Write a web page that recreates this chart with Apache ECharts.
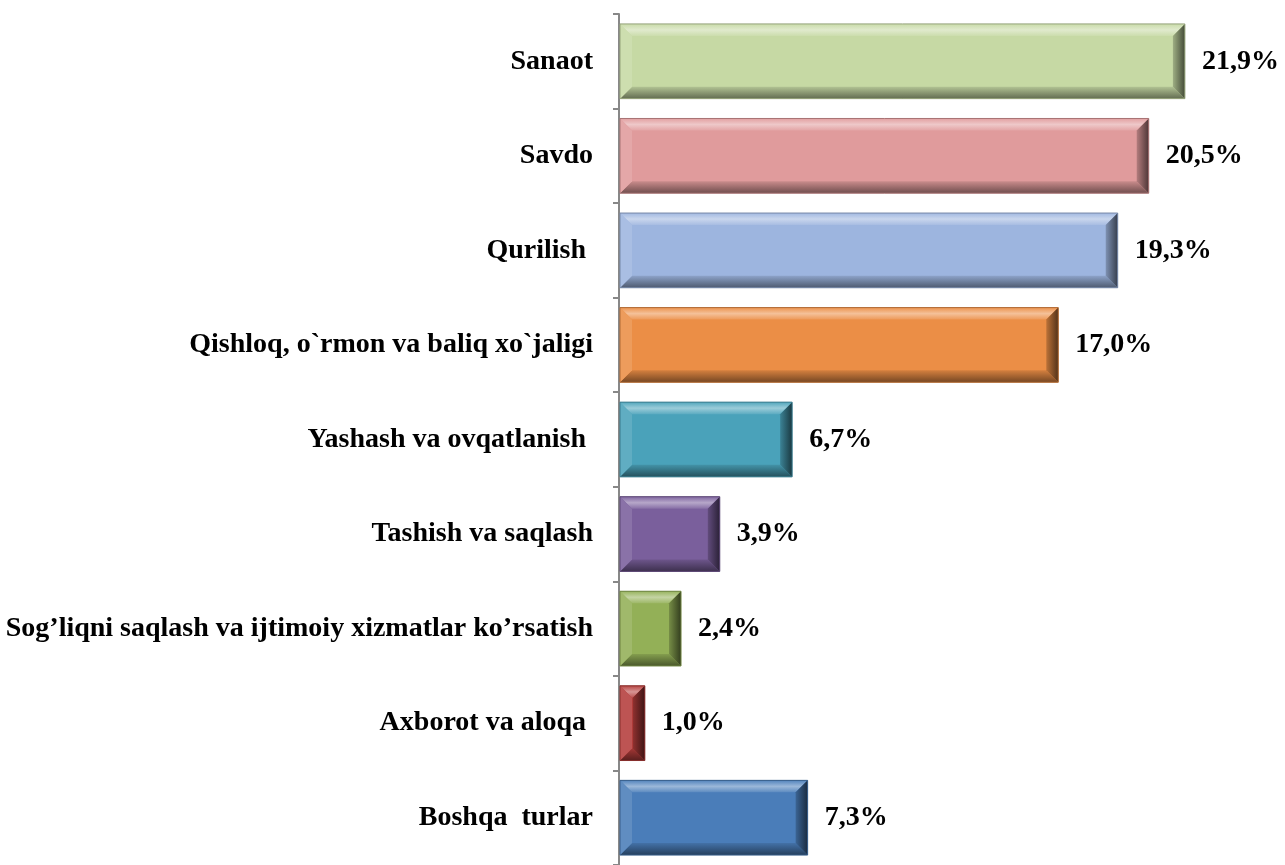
<!DOCTYPE html>
<html>
<head>
<meta charset="utf-8">
<script src="https://cdn.jsdelivr.net/npm/echarts@6/dist/echarts.min.js"></script>
<style>
  html, body { margin: 0; padding: 0; background: #fff; }
  #chart { width: 1285px; height: 865px; }
</style>
</head>
<body>
<div id="chart"></div>
<script>
const categories = [
  "Sanaot",
  "Savdo",
  "Qurilish ",
  "Qishloq, o`rmon va baliq xo`jaligi",
  "Yashash va ovqatlanish ",
  "Tashish va saqlash",
  "Sog’liqni saqlash va ijtimoiy xizmatlar ko’rsatish",
  "Axborot va aloqa ",
  "Boshqa  turlar",
];
const values = [21.9, 20.5, 19.3, 17.0, 6.7, 3.9, 2.4, 1.0, 7.3];
const barColors = [
  "#C6D9A4", "#E09B9C", "#9DB5DF", "#EB8E46", "#4AA2BA",
  "#7A5F9C", "#93B057", "#B43D3B", "#4A7DB9",
];

const FONT = "'Liberation Serif', 'Times New Roman', serif";

function shade(hex, amt) {
  // amt > 0 lighten toward white, amt < 0 darken toward black
  const n = parseInt(hex.slice(1), 16);
  let r = (n >> 16) & 255, g = (n >> 8) & 255, b = n & 255;
  const t = amt > 0 ? 255 : 0;
  const p = Math.abs(amt);
  r = Math.round(r + (t - r) * p);
  g = Math.round(g + (t - g) * p);
  b = Math.round(b + (t - b) * p);
  return `rgb(${r},${g},${b})`;
}

const chart = echarts.init(document.getElementById("chart"));

function renderBar(params, api) {
  const v = api.value(0);
  const idx = api.value(1);
  const start = api.coord([0, idx]);
  const end = api.coord([v, idx]);
  const h = api.size([0, 1])[1] * 0.79;
  const x0 = start[0] + 1, x1 = end[0];
  const y0 = start[1] - h / 2, y1 = start[1] + h / 2;
  const w = x1 - x0;
  const bx = Math.min(12, w / 2), by = 12;
  const base = barColors[idx];
  return {
    type: "group",
    children: [
      { type: "rect", shape: { x: x0, y: y0, width: w, height: h }, style: { fill: base } },
      { type: "polygon", shape: { points: [[x0, y0], [x1, y0], [x1 - bx, y0 + by], [x0 + bx, y0 + by]] },
        style: { fill: new echarts.graphic.LinearGradient(0, 0, 0, 1, [
          { offset: 0, color: shade(base, 0.05) }, { offset: 0.5, color: shade(base, 0.45) }, { offset: 1, color: shade(base, 0.1) }]) } },
      { type: "polygon", shape: { points: [[x0, y1], [x1, y1], [x1 - bx, y1 - by], [x0 + bx, y1 - by]] },
        style: { fill: new echarts.graphic.LinearGradient(0, 0, 0, 1, [
          { offset: 0, color: shade(base, -0.1) }, { offset: 1, color: shade(base, -0.5) }]) } },
      { type: "polygon", shape: { points: [[x1, y0], [x1, y1], [x1 - bx, y1 - by], [x1 - bx, y0 + by]] },
        style: { fill: new echarts.graphic.LinearGradient(0, 0, 1, 0, [
          { offset: 0, color: shade(base, -0.2) }, { offset: 1, color: shade(base, -0.65) }]) } },
      { type: "polygon", shape: { points: [[x0, y0], [x0, y1], [x0 + bx, y1 - by], [x0 + bx, y0 + by]] },
        style: { fill: shade(base, 0.12) } },
      { type: "rect", shape: { x: x0, y: y0, width: w, height: h },
        style: { fill: "none", stroke: shade(base, -0.25), lineWidth: 1 } },
      { type: "text", x: x1 + 17, y: start[1],
        style: { text: v.toFixed(1).replace(".", ",") + "%", fill: "#000",
          font: "bold 28px " + FONT, verticalAlign: "middle", align: "left" } },
    ],
  };
}

const option = {
  animation: false,
  grid: { left: 619, right: 20, top: 14, height: 856 },
  xAxis: { type: "value", min: 0, max: 25, show: false },
  yAxis: {
    type: "category",
    inverse: true,
    data: categories,
    axisLine: { show: true, lineStyle: { color: "#888", width: 2 } },
    axisTick: { show: true, length: 6, lineStyle: { color: "#888", width: 2 } },
    axisLabel: {
      color: "#000",
      fontSize: 28,
      fontWeight: "bold",
      fontFamily: FONT,
      margin: 26,
    },
  },
  series: [{
    type: "custom",
    renderItem: renderBar,
    encode: { x: 0, y: 1 },
    data: values.map((v, i) => [v, i]),
  }],
};

chart.setOption(option);
</script>
</body>
</html>
